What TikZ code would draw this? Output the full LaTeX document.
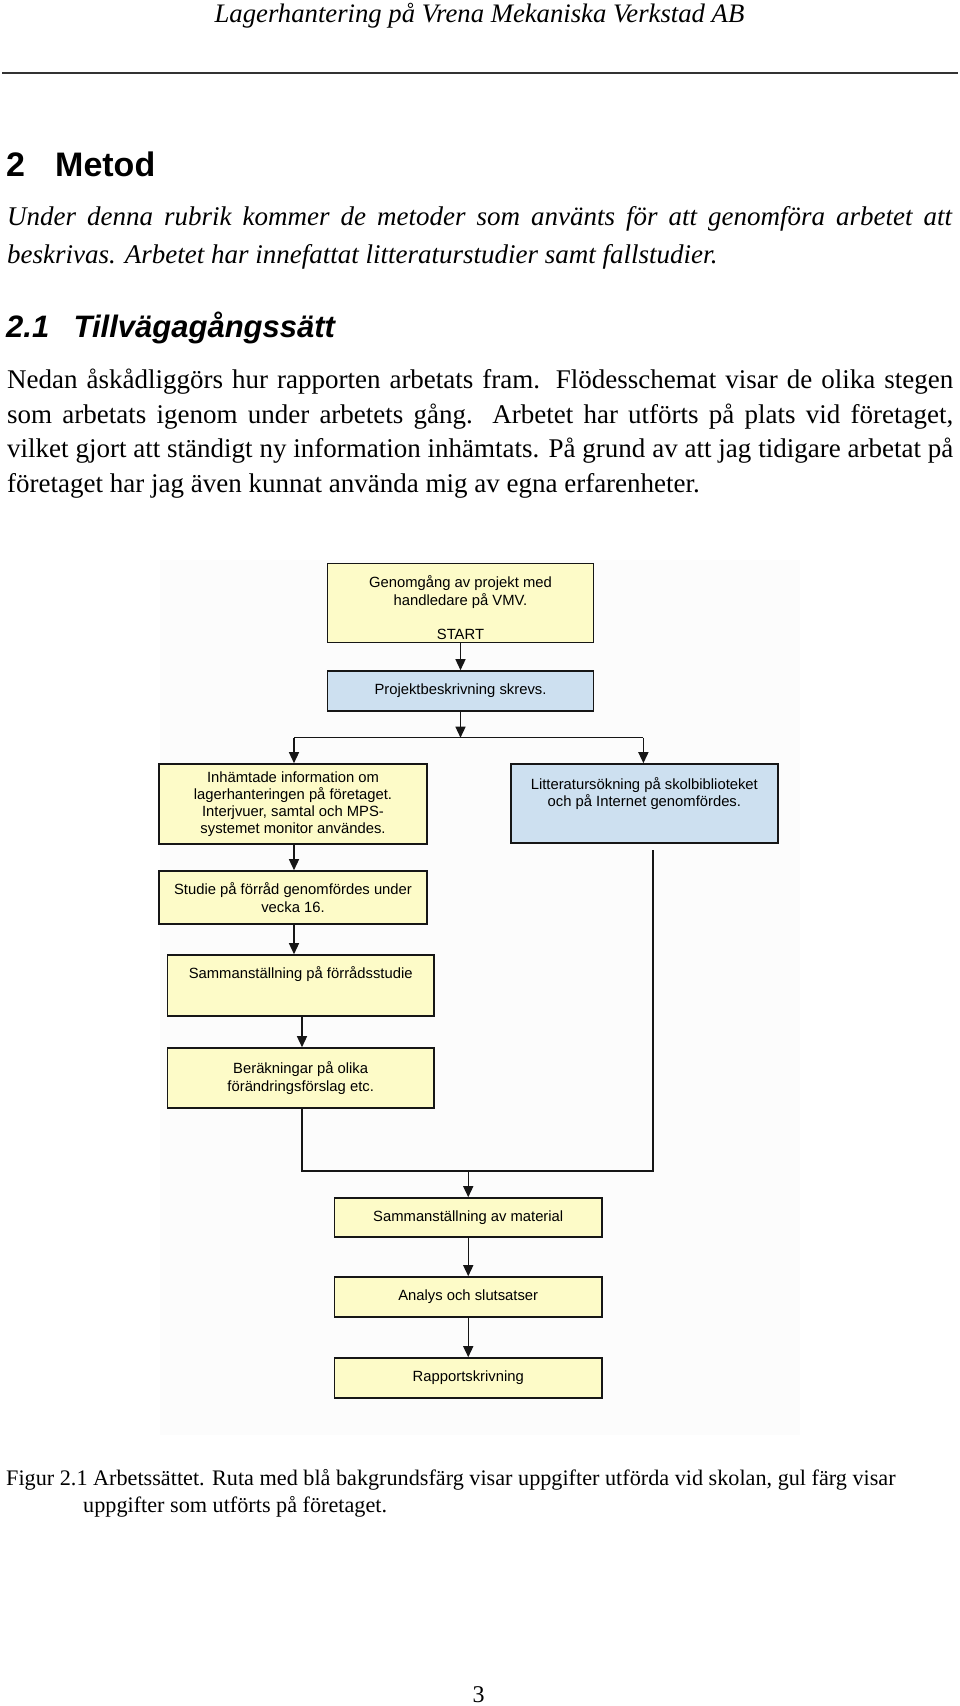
\documentclass[tikz,border=0pt]{standalone}
\usepackage{fontspec}
\setmainfont{Liberation Serif}
\newfontfamily\arialf{Liberation Sans}
\usetikzlibrary{arrows.meta}
\definecolor{boxyellow}{RGB}{253,251,200}
\definecolor{boxblue}{RGB}{205,224,240}
\definecolor{lineblack}{RGB}{22,22,22}
\newcommand\bxfont{\arialf\fontsize{14.8}{17.2}\selectfont}
\newcommand\bodyfont{\fontsize{27}{34.5}\selectfont}
\tikzset{
  fbox/.style={draw=lineblack, line width=1.6pt, inner sep=0pt, align=center, font=\bxfont},
  ybox/.style={fbox, fill=boxyellow},
  bbox/.style={fbox, fill=boxblue},
  btext/.style={inner sep=0pt, align=center, font=\bxfont},
  conn/.style={draw=lineblack, line width=1.4pt},
  arr/.style={conn, -{Triangle[width=10pt,length=11pt]}},
  txt/.style={inner sep=0pt, anchor=base west, font=\bodyfont},
}
\begin{document}
\begin{tikzpicture}[x=1pt,y=-1pt]
\useasboundingbox (0,0) rectangle (960,1706);
% page header
\node[inner sep=0pt, anchor=base, font=\fontsize{26.7}{30}\selectfont\itshape] (header) at (479.5,22) {Lagerhantering på Vrena Mekaniska Verkstad AB};
\coordinate (ruleL) at (2,73);
\coordinate (ruleR) at (958,73);
\draw[line width=2pt, black!80] (ruleL) -- (ruleR);
% heading 1
\node[txt, font=\arialf\bfseries\fontsize{34}{40}\selectfont] (h1num) at (6,176.7) {2};
\node[txt, font=\arialf\bfseries\fontsize{34}{40}\selectfont] (h1) at (55,176.7) {Metod};
\node[txt, font=\bodyfont\itshape] (it1) at (7,225) {\makebox[945pt][s]{Under denna rubrik kommer de metoder som använts för att genomföra arbetet att}};
\node[txt, font=\bodyfont\itshape] (it2) at (7,263) {beskrivas. Arbetet har innefattat litteraturstudier samt fallstudier.};
% heading 2
\node[txt, font=\arialf\bfseries\itshape\fontsize{31}{36}\selectfont] (h2num) at (6,337.5) {2.1};
\node[txt, font=\arialf\bfseries\itshape\fontsize{31}{36}\selectfont] (h2) at (73.5,337.5) {Tillvägagångssätt};
\node[txt] (p1) at (7,388.5) {\makebox[946pt][s]{Nedan åskådliggörs hur rapporten arbetats fram. Flödesschemat visar de olika stegen}};
\node[txt] (p2) at (7,423) {\makebox[946pt][s]{som arbetats igenom under arbetets gång. Arbetet har utförts på plats vid företaget,}};
\node[txt] (p3) at (7,457.5) {\makebox[946pt][s]{vilket gjort att ständigt ny information inhämtats. På grund av att jag tidigare arbetat på}};
\node[txt] (p4) at (7,492) {företaget har jag även kunnat använda mig av egna erfarenheter.};
% flowchart background
\fill[black!1] (160,560) rectangle (800,1435);
% boxes
\node[ybox, minimum width=266.2pt, minimum height=79pt] (start) at (460.5,602.8) {};
\node[btext, anchor=north] (starttext) at (460.5,575.7) {Genomgång av projekt med\\handledare på VMV.\\[17.2pt]START};
\node[bbox, minimum width=266.2pt, minimum height=39.7pt] (proj) at (460.5,690.85) {Projektbeskrivning skrevs.};
\node[ybox, minimum width=268pt, minimum height=80pt] (inh) at (293,804) {Inhämtade information om\\lagerhanteringen på företaget.\\Interjvuer, samtal och MPS-\\systemet monitor användes.};
\node[bbox, minimum width=267.3pt, minimum height=79pt] (lit) at (644.35,803.5) {};
\node[btext, anchor=north] (littext) at (644.35,777) {Litteratursökning på skolbiblioteket\\och på Internet genomfördes.};
\node[ybox, minimum width=268pt, minimum height=53pt] (stud) at (293,897.5) {Studie på förråd genomfördes under\\vecka 16.};
\node[ybox, minimum width=266.6pt, minimum height=61pt] (samf) at (300.7,985.5) {};
\node[btext, anchor=north] (samftext) at (300.7,966.7) {Sammanställning på förrådsstudie};
\node[ybox, minimum width=266.6pt, minimum height=60pt] (ber) at (300.7,1078) {Beräkningar på olika\\förändringsförslag etc.};
\node[ybox, minimum width=267.5pt, minimum height=39pt] (samm) at (468.25,1217.5) {Sammanställning av material};
\node[ybox, minimum width=267.5pt, minimum height=40pt] (ana) at (468.25,1297) {Analys och slutsatser};
\node[ybox, minimum width=267.5pt, minimum height=40pt] (rap) at (468.25,1378) {Rapportskrivning};
% connectors
\coordinate (split) at (460.5,737.7);
\coordinate (splitL) at (294,737.7);
\coordinate (splitR) at (643.4,737.7);
\coordinate (mergeL) at (302,1171);
\coordinate (mergeR) at (653,1171);
\coordinate (mergeM) at (468.25,1171);
\coordinate (litout) at (653,850);
\draw[arr] (start.south) -- (proj.north);
\draw[arr] (proj.south) -- (split);
\draw[conn] (splitL) -- (splitR);
\draw[arr] (splitL) -- (splitL |- inh.north);
\draw[arr] (splitR) -- (splitR |- lit.north);
\draw[arr] (inh.south -| splitL) -- (stud.north -| splitL);
\draw[arr] (stud.south -| splitL) -- (samf.north -| splitL);
\draw[arr] (samf.south -| mergeL) -- (ber.north -| mergeL);
\draw[conn] (ber.south -| mergeL) -- (mergeL) -- (mergeR) -- (litout);
\draw[arr] (mergeM) -- (samm.north);
\draw[arr] (samm.south) -- (ana.north);
\draw[arr] (ana.south) -- (rap.north);
% caption
\node[txt, font=\fontsize{22.2}{27}\selectfont] (cap1) at (6,1485) {Figur 2.1 Arbetssättet. Ruta med blå bakgrundsfärg visar uppgifter utförda vid skolan, gul färg visar};
\node[txt, font=\fontsize{22.2}{27}\selectfont] (cap2) at (83,1512) {uppgifter som utförts på företaget.};
% page number
\node[inner sep=0pt, anchor=base, font=\fontsize{24}{28}\selectfont] (pagenum) at (478.5,1702) {3};
\end{tikzpicture}
\end{document}
